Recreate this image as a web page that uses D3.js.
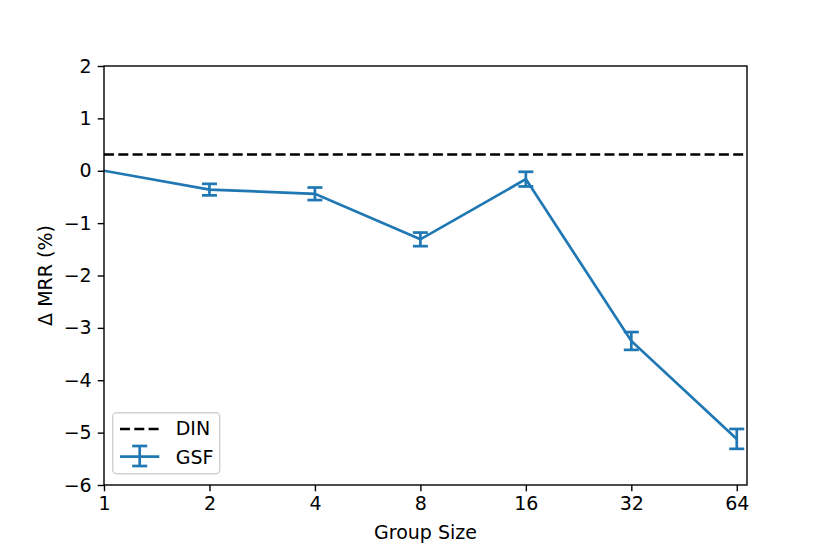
<!DOCTYPE html>
<html lang="en">
<head>
  <meta charset="UTF-8" />
  <title>Δ MRR vs Group Size</title>
  <script src="https://d3js.org/d3.v7.min.js"></script>
  <style>
    body { margin: 0; background: #fff; }
    svg text { font-family: "DejaVu Sans", sans-serif; }
  </style>
</head>
<body>
  <svg id="chart" width="830" height="554"></svg>

  <script>
    // data
    const groupSizes = [1, 2, 4, 8, 16, 32, 64];
    const gsfValues = [0, -0.36, -0.44, -1.31, -0.16, -3.25, -5.12];
    const gsfErrors = [0, 0.11, 0.12, 0.13, 0.14, 0.17, 0.19];
    const dinValue = 0.31;
    const yTicks = [-6, -5, -4, -3, -2, -1, 0, 1, 2];

    const margin = { top: 66, right: 83, bottom: 69, left: 104 },
          width = 830 - margin.left - margin.right,
          height = 554 - margin.top - margin.bottom;

    const fontSize = "19px";
    const lw = 2.7;

    const svg = d3.select("#chart");
    const g = svg.append("g")
      .attr("transform", `translate(${margin.left},${margin.top})`);

    const x = d3.scaleLog().base(2)
      .domain([1, Math.pow(2, 6.097)])
      .range([0, width]);

    const y = d3.scaleLinear()
      .domain([-6, 2])
      .range([height, 0]);

    const blue = "#1f77b4";
    const fmt = v => (v < 0 ? "\u2212" + Math.abs(v) : String(v));

    // clip so lines stay inside axes
    svg.append("clipPath").attr("id", "clip")
      .append("rect").attr("width", width).attr("height", height);

    const plot = g.append("g").attr("clip-path", "url(#clip)");

    // DIN baseline
    plot.append("line")
      .attr("x1", 0).attr("x2", width)
      .attr("y1", y(dinValue)).attr("y2", y(dinValue))
      .attr("stroke", "#000")
      .attr("stroke-width", lw)
      .attr("stroke-dasharray", "10,4.3");

    const pts = groupSizes.map((s, i) => ({ s, v: gsfValues[i], e: gsfErrors[i] }));

    // GSF line
    plot.append("path")
      .datum(pts)
      .attr("fill", "none")
      .attr("stroke", blue)
      .attr("stroke-width", lw)
      .attr("d", d3.line().x(d => x(d.s)).y(d => y(d.v)));

    // error bars
    const bars = plot.selectAll(".err")
      .data(pts.filter(d => d.e > 0))
      .join("g").attr("class", "err")
      .attr("stroke", blue).attr("stroke-width", lw);

    bars.append("line")
      .attr("x1", d => x(d.s)).attr("x2", d => x(d.s))
      .attr("y1", d => y(d.v - d.e)).attr("y2", d => y(d.v + d.e));
    bars.append("line")
      .attr("x1", d => x(d.s) - 7.5).attr("x2", d => x(d.s) + 7.5)
      .attr("y1", d => y(d.v + d.e)).attr("y2", d => y(d.v + d.e));
    bars.append("line")
      .attr("x1", d => x(d.s) - 7.5).attr("x2", d => x(d.s) + 7.5)
      .attr("y1", d => y(d.v - d.e)).attr("y2", d => y(d.v - d.e));

    // Axes
    const xAxis = g.append("g")
      .attr("transform", `translate(0,${height})`)
      .call(d3.axisBottom(x).tickValues(groupSizes).tickFormat(d => d).tickSize(6.3).tickPadding(5.5));

    const yAxis = g.append("g")
      .call(d3.axisLeft(y).tickValues(yTicks).tickFormat(fmt).tickSize(6.3).tickPadding(6));

    [xAxis, yAxis].forEach(a => {
      a.select(".domain").remove();
      a.selectAll(".tick line").attr("stroke", "#000").attr("stroke-width", 1.4);
      a.selectAll(".tick text").attr("fill", "#000").style("font-size", fontSize);
    });

    // frame
    g.append("rect")
      .attr("width", width).attr("height", height)
      .attr("fill", "none").attr("stroke", "#000").attr("stroke-width", 1.4);

    // labels
    svg.append("text")
      .attr("x", margin.left + width / 2)
      .attr("y", 539)
      .attr("text-anchor", "middle")
      .style("font-size", fontSize)
      .text("Group Size");

    svg.append("text")
      .attr("transform", `translate(51.5,${margin.top + height / 2}) rotate(-90)`)
      .attr("text-anchor", "middle")
      .style("font-size", fontSize)
      .text("Δ MRR (%)");

    // legend
    const lg = g.append("g").attr("transform", "translate(8.7,346.7)");
    lg.append("rect")
      .attr("width", 107).attr("height", 61).attr("rx", 4)
      .attr("fill", "#fff").attr("fill-opacity", 0.8)
      .attr("stroke", "#d0d0d0").attr("stroke-width", 1.4);

    lg.append("line")
      .attr("x1", 7.3).attr("x2", 46.6).attr("y1", 16.3).attr("y2", 16.3)
      .attr("stroke", "#000").attr("stroke-width", lw)
      .attr("stroke-dasharray", "10,4.3");
    lg.append("text").attr("x", 63).attr("y", 22.6).style("font-size", fontSize).text("DIN");

    const eg = lg.append("g").attr("stroke", blue).attr("stroke-width", lw);
    eg.append("line").attr("x1", 7.3).attr("x2", 46.6).attr("y1", 44).attr("y2", 44);
    eg.append("line").attr("x1", 27).attr("x2", 27).attr("y1", 33.3).attr("y2", 53.3);
    eg.append("line").attr("x1", 19.5).attr("x2", 34.5).attr("y1", 33.3).attr("y2", 33.3);
    eg.append("line").attr("x1", 19.5).attr("x2", 34.5).attr("y1", 53.3).attr("y2", 53.3);
    lg.append("text").attr("x", 63).attr("y", 50.9).style("font-size", fontSize).text("GSF");
  </script>
</body>
</html>
